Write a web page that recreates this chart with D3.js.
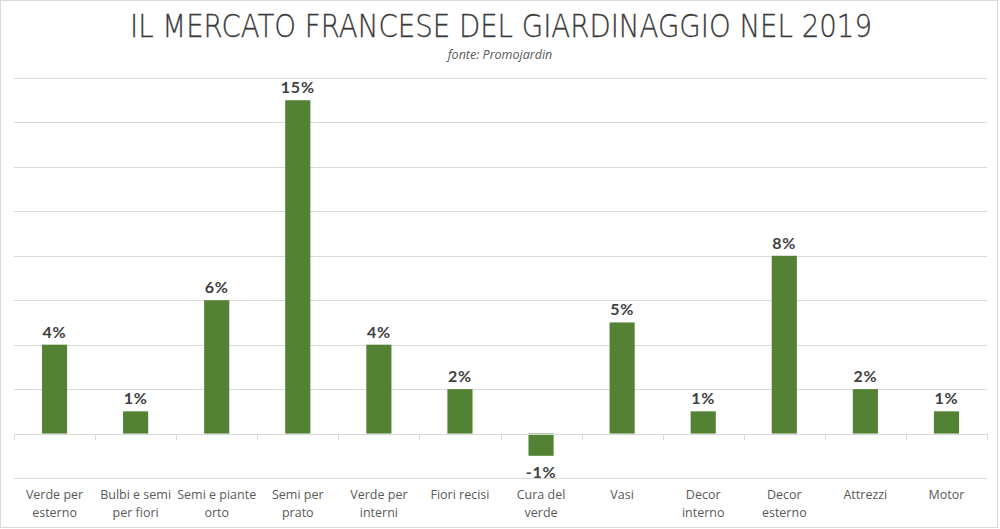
<!DOCTYPE html>
<html><head><meta charset="utf-8">
<script src="https://cdn.jsdelivr.net/npm/d3@7"></script>
<style>html,body{margin:0;padding:0;background:#fff;}svg{display:block;}</style>
</head><body>
<script>
const categories = [["Verde per","esterno"],["Bulbi e semi","per fiori"],["Semi e piante","orto"],["Semi per","prato"],["Verde per","interni"],["Fiori recisi"],["Cura del","verde"],["Vasi"],["Decor","interno"],["Decor","esterno"],["Attrezzi"],["Motor"]];
const values = [4, 1, 6, 15, 4, 2, -1, 5, 1, 8, 2, 1];
const gridTicks = [-2, 0, 2, 4, 6, 8, 10, 12, 14, 16];
const title = "IL MERCATO FRANCESE DEL GIARDINAGGIO NEL 2019";
const subtitle = "fonte: Promojardin";

const W = 1000, H = 529;
const svg = d3.select("body").append("svg").attr("width", W).attr("height", H);
svg.append("rect").attr("x",0.5).attr("y",0.5).attr("width",997).attr("height",527).attr("fill","#fff").attr("stroke","#d9d9d9");

const x = d3.scaleBand().domain(d3.range(categories.length)).range([14, 987]).paddingInner(0.69).paddingOuter(0.345);
const xb = d3.scaleBand().domain(d3.range(categories.length)).range([14, 987]);
const y = d3.scaleLinear().domain([-2, 16]).range([478, 78]);

svg.append("text").attr("x", 501).attr("y", 37).attr("text-anchor","middle")
  .attr("font-family","'DejaVu Sans',sans-serif").attr("font-size",32).attr("font-weight",200)
  .attr("fill","#3a3a3a").attr("stroke","#3a3a3a").attr("stroke-width",0.3)
  .attr("textLength",742).attr("lengthAdjust","spacingAndGlyphs").text(title);
svg.append("text").attr("x", 500).attr("y", 59).attr("text-anchor","middle")
  .attr("font-family","'Open Sans',sans-serif").attr("font-style","italic").attr("font-size",12.5)
  .attr("fill","#595959").text(subtitle);

svg.append("g").selectAll("line").data(gridTicks.filter(d=>d!==0)).join("line")
  .attr("x1",14).attr("x2",987).attr("y1",d=>Math.round(y(d))+0.5).attr("y2",d=>Math.round(y(d))+0.5)
  .attr("stroke","#d9d9d9").attr("stroke-width",1);

svg.append("g").selectAll("rect").data(values).join("rect")
  .attr("x",(d,i)=>x(i)).attr("width",x.bandwidth())
  .attr("y",d=>y(Math.max(0,d))).attr("height",d=>Math.abs(y(d)-y(0)))
  .attr("fill","#548235");

const ax = svg.append("g");
ax.append("line").attr("x1",14).attr("x2",987).attr("y1",Math.round(y(0))+0.5).attr("y2",Math.round(y(0))+0.5).attr("stroke","#d9d9d9");
ax.selectAll("line.t").data(d3.range(categories.length+1)).join("line").attr("class","t")
  .attr("x1",i=>Math.round(i<categories.length?xb(i):987)+0.5).attr("x2",i=>Math.round(i<categories.length?xb(i):987)+0.5)
  .attr("y1",Math.round(y(0))).attr("y2",Math.round(y(0))+6).attr("stroke","#d9d9d9");

svg.append("g").selectAll("text").data(values).join("text")
  .attr("x",(d,i)=>x(i)+x.bandwidth()/2)
  .attr("y",d=>d>=0 ? y(d)-7 : y(d)+22)
  .attr("text-anchor","middle").attr("font-family","Lato,'Open Sans',sans-serif").attr("font-weight",700)
  .attr("font-size",16).attr("fill","#404040").attr("letter-spacing",0.8).text(d=>d+"%");

const cl = svg.append("g").selectAll("text").data(categories).join("text")
  .attr("x",(d,i)=>xb(i)+xb.bandwidth()/2).attr("y",499)
  .attr("text-anchor","middle").attr("font-family","'Open Sans',sans-serif").attr("font-size",12.5).attr("fill","#595959");
cl.selectAll("tspan").data(d=>d).join("tspan")
  .attr("x",function(){return d3.select(this.parentNode).attr("x");})
  .attr("dy",(d,i)=>i===0?0:18).text(d=>d);
</script>
</body></html>
